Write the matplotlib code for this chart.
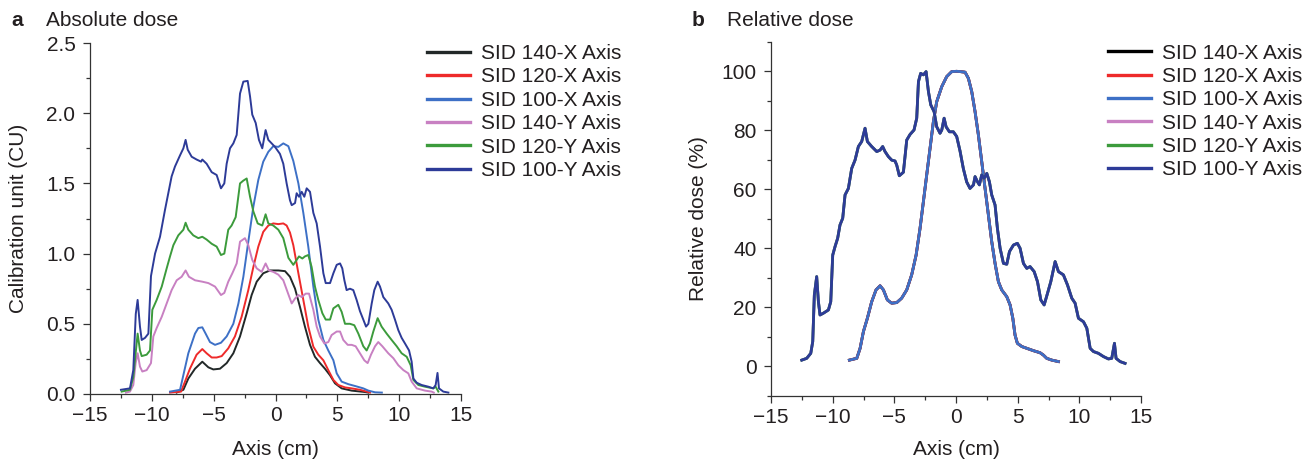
import matplotlib
matplotlib.use("Agg")
import matplotlib.pyplot as plt
from matplotlib.ticker import MultipleLocator

plt.rcParams['font.family'] = ['Liberation Sans', 'DejaVu Sans']
plt.rcParams['font.size'] = 15
plt.rcParams['text.color'] = '#231f20'
plt.rcParams['axes.labelcolor'] = '#231f20'
plt.rcParams['xtick.color'] = '#333333'
plt.rcParams['ytick.color'] = '#333333'
plt.rcParams['xtick.labelcolor'] = '#231f20'
plt.rcParams['ytick.labelcolor'] = '#231f20'

labels = ["SID 140-X Axis", "SID 120-X Axis", "SID 100-X Axis",
          "SID 140-Y Axis", "SID 120-Y Axis", "SID 100-Y Axis"]
colors_a = ['#222828', '#ee2a2a', '#3d70c6', '#c880c2', '#3c9b3c', '#2d3b98']
colors_b = ['#000000', '#ee2a2a', '#3d70c6', '#c880c2', '#3c9b3c', '#2d3b98']

# panel a - absolute dose (CU)
a_140x_x = [-8.0, -7.45, -7.05, -6.51, -5.92, -5.43, -5.03, -4.49, -3.95, -3.41,
            -2.87, -2.33, -1.93, -1.52, -0.99, -0.45, 0.23, 0.77, 1.17, 1.58,
            1.98, 2.38, 2.79, 3.19, 3.6, 4.0, 4.41, 4.81, 5.35, 6.16, 7.24, 7.5]
a_140x_y = [0.01, 0.03, 0.11, 0.18, 0.23, 0.19, 0.175, 0.18, 0.22, 0.29,
            0.41, 0.575, 0.705, 0.80, 0.86, 0.88, 0.88, 0.875, 0.835, 0.75,
            0.62, 0.48, 0.35, 0.265, 0.22, 0.18, 0.133, 0.076, 0.04, 0.024, 0.014, 0.01]

a_120x_x = [-8.53, -7.64, -7.32, -6.92, -6.38, -5.92, -5.57, -5.16, -4.76, -4.35,
            -3.82, -3.28, -2.74, -2.2, -1.79, -1.39, -0.99, -0.58, -0.18, 0.23,
            0.63, 0.9, 1.17, 1.44, 1.85, 2.25, 2.65, 3.06, 3.46, 3.87,
            4.27, 4.68, 5.08, 5.62, 6.16, 6.83, 7.37, 7.64]
a_120x_y = [0.01, 0.017, 0.088, 0.18, 0.28, 0.32, 0.29, 0.26, 0.26, 0.27,
            0.325, 0.41, 0.55, 0.74, 0.905, 1.05, 1.155, 1.20, 1.215, 1.21,
            1.215, 1.20, 1.15, 1.06, 0.86, 0.67, 0.48, 0.337, 0.28, 0.24,
            0.17, 0.10, 0.064, 0.047, 0.04, 0.03, 0.017, 0.01]

a_100x_x = [-8.53, -7.72, -7.45, -7.05, -6.51, -6.24, -5.92, -5.65, -5.3, -4.89,
            -4.41, -3.95, -3.41, -3.0, -2.6, -2.2, -1.79, -1.39, -0.99, -0.58,
            -0.18, 0.23, 0.63, 1.04, 1.44, 1.85, 2.25, 2.65, 3.06, 3.46,
            3.87, 4.27, 4.68, 4.95, 5.35, 5.89, 6.43, 7.1, 7.51, 8.05, 8.6]
a_100x_y = [0.017, 0.03, 0.135, 0.29, 0.43, 0.47, 0.475, 0.43, 0.37, 0.35,
            0.365, 0.41, 0.50, 0.645, 0.835, 1.085, 1.335, 1.525, 1.655, 1.725,
            1.765, 1.76, 1.785, 1.765, 1.66, 1.50, 1.29, 1.05, 0.765, 0.53,
            0.385, 0.31, 0.24, 0.147, 0.088, 0.07, 0.057, 0.04, 0.024, 0.012, 0.01]

a_140y_x = [-12.1, -11.77, -11.5, -11.31, -11.15, -10.96, -10.77, -10.42, -10.07, -9.88,
            -9.61, -9.2, -8.8, -8.4, -7.99, -7.59, -7.27, -7.0, -6.51, -5.92,
            -5.43, -4.89, -4.41, -4.14, -3.82, -3.49, -3.14, -2.87, -2.47, -2.2,
            -1.88, -1.52, -1.12, -0.8, -0.53, -0.18, 0.23, 0.63, 1.04, 1.31,
            1.58, 1.85, 2.12, 2.44, 2.71, 3.06, 3.33, 3.6, 3.95, 4.27,
            4.54, 4.95, 5.22, 5.48, 5.84, 6.16, 6.48, 6.83, 7.18, 7.45,
            7.72, 8.05, 8.31, 8.64, 9.12, 9.53, 9.93, 10.34, 10.74, 11.01,
            11.42, 12.09, 12.63, 12.8]
a_140y_y = [0.01, 0.017, 0.064, 0.22, 0.29, 0.195, 0.16, 0.17, 0.22, 0.41,
            0.47, 0.55, 0.645, 0.74, 0.81, 0.835, 0.88, 0.835, 0.81, 0.80,
            0.79, 0.765, 0.705, 0.72, 0.80, 0.86, 0.93, 1.085, 1.11, 1.06,
            0.955, 0.895, 0.87, 0.93, 0.88, 0.87, 0.85, 0.81, 0.71, 0.645,
            0.68, 0.705, 0.69, 0.715, 0.715, 0.60, 0.48, 0.41, 0.36, 0.37,
            0.42, 0.445, 0.445, 0.385, 0.35, 0.35, 0.34, 0.29, 0.24, 0.22,
            0.28, 0.34, 0.37, 0.34, 0.29, 0.255, 0.205, 0.17, 0.147, 0.088,
            0.04, 0.024, 0.017, 0.01]

a_120y_x = [-12.44, -11.77, -11.5, -11.31, -11.15, -10.96, -10.82, -10.42, -10.15, -9.96,
            -9.61, -9.2, -8.8, -8.53, -8.26, -7.86, -7.45, -7.27, -7.05, -6.65,
            -6.24, -5.92, -5.57, -5.16, -4.76, -4.41, -4.14, -3.82, -3.55, -3.22,
            -2.87, -2.6, -2.33, -2.06, -1.79, -1.44, -1.07, -0.8, -0.58, -0.18,
            0.23, 0.63, 1.04, 1.44, 1.71, 1.9, 2.17, 2.38, 2.65, 2.92,
            3.19, 3.46, 3.79, 4.06, 4.41, 4.68, 5.08, 5.35, 5.62, 6.02,
            6.37, 6.7, 7.1, 7.37, 7.64, 7.91, 8.26, 8.58, 8.99, 9.39,
            9.8, 10.2, 10.61, 10.93, 11.15, 11.55, 12.09, 12.76, 12.95, 13.17]
a_120y_y = [0.017, 0.03, 0.12, 0.29, 0.43, 0.31, 0.27, 0.28, 0.31, 0.60,
            0.67, 0.765, 0.895, 0.98, 1.06, 1.13, 1.17, 1.22, 1.17, 1.13,
            1.11, 1.12, 1.10, 1.07, 1.05, 0.99, 1.00, 1.17, 1.20, 1.26,
            1.50, 1.52, 1.535, 1.405, 1.30, 1.215, 1.20, 1.28, 1.215, 1.20,
            1.17, 1.11, 0.97, 0.92, 0.955, 0.98, 0.965, 0.98, 0.99, 0.905,
            0.765, 0.67, 0.575, 0.53, 0.53, 0.61, 0.635, 0.585, 0.50, 0.50,
            0.49, 0.43, 0.34, 0.31, 0.36, 0.445, 0.54, 0.48, 0.43, 0.385,
            0.34, 0.29, 0.265, 0.205, 0.10, 0.064, 0.052, 0.04, 0.052, 0.017]

a_100y_x = [-12.5, -11.77, -11.5, -11.3, -11.15, -10.96, -10.82, -10.55, -10.28, -10.07,
            -9.74, -9.34, -8.94, -8.67, -8.4, -8.13, -7.72, -7.45, -7.27, -7.1,
            -6.78, -6.38, -6.02, -5.92, -5.57, -5.16, -4.76, -4.41, -4.14, -3.95,
            -3.68, -3.41, -3.14, -2.87, -2.6, -2.25, -2.06, -1.88, -1.6, -1.34,
            -1.07, -0.8, -0.58, -0.31, -0.04, 0.36, 0.63, 0.9, 1.17, 1.31,
            1.58, 1.71, 1.9, 2.12, 2.33, 2.52, 2.79, 3.06, 3.33, 3.6,
            3.87, 4.06, 4.41, 4.68, 4.95, 5.22, 5.4, 5.57, 5.75, 6.02,
            6.29, 6.56, 6.83, 7.1, 7.32, 7.51, 7.78, 7.99, 8.26, 8.45,
            8.72, 9.12, 9.39, 9.66, 9.93, 10.2, 10.47, 10.8, 11.01, 11.15,
            11.42, 11.82, 12.36, 12.76, 12.95, 13.1, 13.22, 13.57, 13.98]
a_100y_y = [0.03, 0.04, 0.17, 0.57, 0.67, 0.48, 0.385, 0.40, 0.43, 0.84,
            1.0, 1.12, 1.31, 1.43, 1.55, 1.62, 1.70, 1.75, 1.81, 1.74,
            1.69, 1.67, 1.655, 1.67, 1.64, 1.58, 1.56, 1.465, 1.50, 1.64,
            1.75, 1.785, 1.845, 2.14, 2.225, 2.23, 2.12, 1.99, 1.93, 1.81,
            1.75, 1.88, 1.81, 1.785, 1.76, 1.71, 1.64, 1.50, 1.38, 1.345,
            1.36, 1.43, 1.405, 1.44, 1.405, 1.465, 1.44, 1.29, 1.215, 1.05,
            0.86, 0.79, 0.79, 0.86, 0.92, 0.93, 0.895, 0.81, 0.74, 0.75,
            0.74, 0.67, 0.59, 0.53, 0.48, 0.50, 0.645, 0.74, 0.80, 0.765,
            0.69, 0.645, 0.60, 0.53, 0.455, 0.40, 0.36, 0.31, 0.23, 0.11,
            0.08, 0.064, 0.052, 0.04, 0.064, 0.15, 0.04, 0.017, 0.01]

# panel b - relative dose (%), X-axis and Y-axis profiles nearly coincide
b_xaxis_x = [-8.65, -8.05, -7.78, -7.51, -7.19, -6.84, -6.49, -6.16, -5.89, -5.57,
             -5.22, -4.81, -4.41, -4.0, -3.6, -3.24, -2.92, -2.65, -2.38, -2.11,
             -1.84, -1.57, -1.16, -0.76, -0.35, 0.05, 0.33, 0.73, 1.0, 1.27,
             1.54, 1.81, 2.08, 2.35, 2.62, 2.89, 3.16, 3.43, 3.7, 4.11,
             4.38, 4.6, 4.78, 4.97, 5.33, 5.73, 6.27, 6.81, 7.08, 7.35, 7.76, 8.3]
b_xaxis_y = [2.1, 2.7, 6.1, 11.8, 16.3, 21.9, 25.9, 27.3, 25.9, 22.5,
             21.4, 21.6, 23.1, 25.9, 31.0, 37.7, 46.8, 55.8, 64.9, 73.9,
             82.9, 89.7, 94.8, 98.2, 99.9, 100.0, 99.9, 99.7, 97.6, 93.1,
             86.3, 78.4, 69.4, 60.3, 51.3, 42.3, 34.9, 28.7, 25.9, 23.6,
             20.8, 16.3, 10.6, 7.8, 6.7, 6.1, 5.3, 4.6, 3.8, 2.7, 2.1, 1.6]

b_yaxis_x = [-12.51, -12.11, -11.78, -11.62, -11.49, -11.3, -11.16, -11.03, -10.76, -10.35,
             -10.16, -10.0, -9.81, -9.6, -9.41, -9.19, -9.0, -8.73, -8.46, -8.19,
             -7.92, -7.65, -7.38, -7.19, -6.84, -6.43, -6.16, -5.95, -5.76, -5.49,
             -5.22, -4.95, -4.81, -4.6, -4.27, -4.0, -3.73, -3.41, -3.19, -3.05,
             -2.87, -2.65, -2.43, -2.24, -2.05, -1.78, -1.57, -1.3, -1.16, -0.97,
             -0.81, -0.54, -0.22, 0.05, 0.32, 0.59, 0.86, 1.13, 1.41, 1.54,
             1.73, 1.89, 2.08, 2.27, 2.49, 2.7, 2.89, 3.16, 3.35, 3.57,
             3.84, 4.11, 4.33, 4.65, 4.97, 5.19, 5.46, 5.73, 6.0, 6.33,
             6.6, 6.87, 7.14, 7.41, 7.68, 8.03, 8.3, 8.7, 9.03, 9.38,
             9.65, 9.92, 10.33, 10.6, 10.87, 11.14, 11.54, 11.95, 12.35, 12.62,
             12.84, 12.97, 13.3, 13.7]
b_yaxis_y = [2.1, 2.7, 4.4, 8.4, 24.2, 30.4, 21.9, 17.4, 18.0, 19.1,
             21.9, 37.7, 40.6, 43.4, 47.9, 50.2, 58.1, 60.3, 67.1, 69.9,
             74.5, 76.2, 80.7, 76.2, 74.5, 72.8, 73.3, 74.5, 72.8, 71.1,
             69.9, 69.6, 68.2, 64.6, 65.8, 76.7, 78.6, 80.1, 84.1, 96.5,
             99.3, 98.8, 99.9, 93.1, 88.6, 86.3, 81.2, 79.0, 80.1, 84.1,
             81.2, 79.5, 79.5, 77.9, 73.0, 67.0, 62.5, 60.3, 61.5, 64.3,
             62.6, 61.5, 64.9, 63.7, 65.4, 62.6, 58.1, 54.7, 46.8, 40.0,
             34.9, 34.6, 38.9, 41.1, 41.7, 40.0, 34.9, 33.2, 33.8, 32.1,
             28.7, 22.5, 20.8, 24.7, 28.7, 35.5, 32.1, 31.0, 27.6, 23.1,
             21.4, 16.3, 15.1, 12.9, 6.1, 5.0, 4.4, 3.3, 2.5, 2.7,
             7.8, 2.7, 1.6, 1.0]

series_a = [(a_140x_x, a_140x_y), (a_120x_x, a_120x_y), (a_100x_x, a_100x_y),
            (a_140y_x, a_140y_y), (a_120y_x, a_120y_y), (a_100y_x, a_100y_y)]
series_b = [(b_xaxis_x, b_xaxis_y)] * 3 + [(b_yaxis_x, b_yaxis_y)] * 3


def style_axes(ax):
    for side in ['top', 'right']:
        ax.spines[side].set_visible(False)
    for side in ['left', 'bottom']:
        ax.spines[side].set_color('#333333')
        ax.spines[side].set_linewidth(0.9)
    ax.tick_params(which='major', direction='out', length=5, width=0.9)
    ax.tick_params(which='minor', direction='out', length=3, width=0.9)
    ax.tick_params(axis='x', pad=3.5)
    ax.tick_params(axis='y', pad=5.5)
    ax.set_xlim(-15, 15)
    ax.xaxis.set_major_locator(MultipleLocator(5))
    ax.xaxis.set_minor_locator(MultipleLocator(2.5))


def add_legend(ax, x0, y0):
    leg = ax.legend(loc='upper left', bbox_to_anchor=(x0, y0), frameon=False,
                    borderpad=0, borderaxespad=0, labelspacing=0.21,
                    handlelength=2.05, handletextpad=0.55, fontsize=15)
    for line in leg.get_lines():
        line.set_linewidth(2.4)


fig = plt.figure(figsize=(13.16, 4.65), dpi=100)

ax1 = fig.add_axes([0.0684, 0.1527, 0.2819, 0.7548])
for (xs, ys), lab, col in zip(series_a, labels, colors_a):
    ax1.plot(xs, ys, color=col, lw=1.4, label=lab)
style_axes(ax1)
ax1.set_ylim(0, 2.5)
ax1.yaxis.set_major_locator(MultipleLocator(0.5))
ax1.yaxis.set_minor_locator(MultipleLocator(0.25))
ax1.yaxis.set_major_formatter(plt.FormatStrFormatter('%.1f'))
ax1.set_xlabel("Axis (cm)")
ax1.set_ylabel("Calibration unit (CU)")
ax1.xaxis.set_label_coords(0.5, -0.13)
ax1.yaxis.set_label_coords(-0.167, 0.5)
add_legend(ax1, 0.908, 0.997)

ax2 = fig.add_axes([0.5859, 0.1488, 0.2812, 0.7613])
for (xs, ys), lab, col in zip(series_b, labels, colors_b):
    ax2.plot(xs, ys, color=col, lw=2.0, label=lab)
style_axes(ax2)
ax2.set_ylim(-10, 110)
ax2.yaxis.set_major_locator(MultipleLocator(20))
ax2.yaxis.set_minor_locator(MultipleLocator(10))
ax2.set_yticks([0, 20, 40, 60, 80, 100])
ax2.set_xlabel("Axis (cm)")
ax2.set_ylabel("Relative dose (%)")
ax2.xaxis.set_label_coords(0.5, -0.125)
ax2.yaxis.set_label_coords(-0.17, 0.5)
add_legend(ax2, 0.911, 0.995)

fig.text(0.0089, 0.944, "a", fontsize=15, fontweight='bold', va='baseline')
fig.text(0.035, 0.944, "Absolute dose", fontsize=15, va='baseline')
fig.text(0.5256, 0.944, "b", fontsize=15, fontweight='bold', va='baseline')
fig.text(0.5527, 0.944, "Relative dose", fontsize=15, va='baseline')

fig.savefig("out.png", dpi=100)
